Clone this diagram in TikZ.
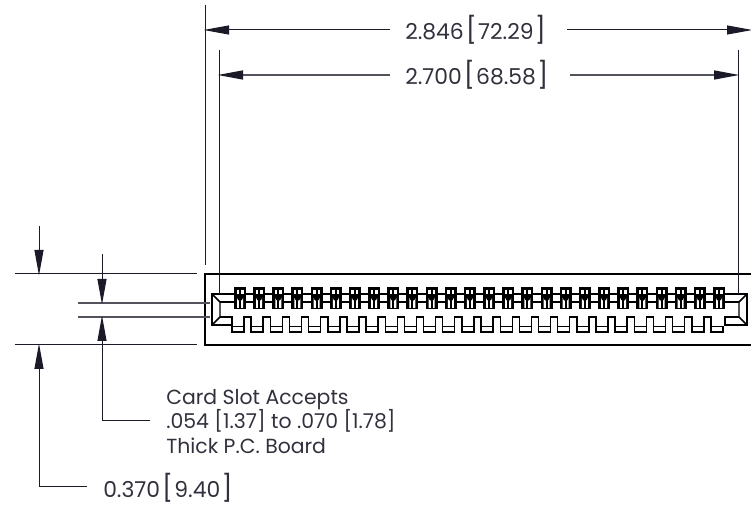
\documentclass[tikz,border=0pt]{standalone}
\usepackage{fontspec}
\setmainfont{Poppins}
\usetikzlibrary{arrows.meta}
\definecolor{dimink}{RGB}{26,26,40}
\newcommand{\dimval}[2]{#1\hspace{1.5pt}{\fontsize{19.5}{19.5}\selectfont[}\hspace{1pt}#2\hspace{1pt}{\fontsize{19.5}{19.5}\selectfont]}}
\tikzset{
	dimline/.style={draw=dimink,line width=.75pt},
	dimgray/.style={draw=dimink!75,line width=1pt},
	dimarrow/.style={-{Triangle[length=19pt,width=6.75pt,color=dimink,fill=dimink]},shorten >=-1pt},
	part/.style={draw=black,line width=1.1pt},
	dimtext/.style={font=\fontsize{16.4}{16.4}\selectfont,text=dimink!90,inner sep=0pt,anchor=west},
	notetext/.style={font=\fontsize{15.3}{18.4}\selectfont,text=dimink!90,inner sep=0pt,anchor=north west,align=left}
}
\begin{document}
\begin{tikzpicture}[x=.75pt,y=-.75pt]
	\useasboundingbox (0,0) rectangle (751,505);
	% connector body
	\draw[part] (751,274) -- (205,274) -- (205,345) -- (751,345);
	\draw[part] (235,294) -- (212,294) -- (212,325) -- (232,325);
	\draw[part] (717,294) -- (747,294) -- (747,325) -- (725,325);
	\draw[part] (212,294) -- (220,302) -- (220,317) -- (212,325);
	\draw[part] (747,294) -- (739,302) -- (739,317) -- (747,325);
	\draw[part] (220,302) -- (235,302);
	\draw[part] (220,317) -- (232,317) -- (232,326);
	\draw[part] (739,302) -- (717,302);
	\draw[part] (739,317) -- (725,317) -- (725,326);
	% contacts
	\foreach \i in {0,...,25}{
		\pgfmathsetmacro{\cx}{240+\i*19.16}
		\pgfmathsetmacro{\bx}{232+\i*19.16}
		\fill[black] (\cx-6,287) rectangle (\cx+6,309);
		\fill[white] (\cx-3.5,290.5) rectangle (\cx-1,294);
		\fill[white] (\cx+1,290.5) rectangle (\cx+3.5,294);
		\fill[white] (\cx-3,308) -- (\cx-3,298) arc (180:0:3) -- (\cx+3,308) -- cycle;
		\fill[black] (\cx-1,309) rectangle (\cx+1,300);
		\draw[part] (\bx,326.5) rectangle (\bx+12,332);
		\ifnum\i<25
			\draw[part] (\cx+6,294) -- (\cx+13.2,294) (\cx+6,302) -- (\cx+13.2,302);
			\draw[part] (\bx+12,326.5) -- (\bx+12,317) -- (\bx+19.16,317) -- (\bx+19.16,326.5);
		\fi
	}
	% extension lines
	\coordinate (ovlt) at (205,5);
	\coordinate (ovlb) at (205,265);
	\coordinate (pitlt) at (219,50);
	\coordinate (pitlb) at (219,294);
	\coordinate (pitrt) at (738,50);
	\coordinate (pitrb) at (738,294);
	\draw[dimline] (ovlt) -- (ovlb);
	\draw[dimline] (pitlt) -- (pitlb);
	\draw[dimline] (pitrt) -- (pitrb);
	\coordinate (topa) at (15,274);
	\coordinate (topb) at (197,274);
	\coordinate (bota) at (15,345);
	\coordinate (botb) at (197,345);
	\coordinate (sla) at (78,303);
	\coordinate (slb) at (210,303);
	\coordinate (sma) at (78,317);
	\coordinate (smb) at (210,317);
	\draw[dimline] (topa) -- (topb);
	\draw[dimline] (bota) -- (botb);
	\draw[dimgray] (sla) -- (slb);
	\draw[dimgray] (sma) -- (smb);
	% width dimensions
	\node[dimtext] (wide) at (405,30) {\dimval{2.846}{72.29}};
	\node[dimtext] (pitch) at (405,75) {\dimval{2.700}{68.58}};
	\coordinate (widel) at (205,30);
	\coordinate (wider) at (751,30);
	\coordinate (pitchl) at (219,75);
	\coordinate (pitchr) at (738,75);
	\draw[dimline,dimarrow] (wide.west) ++(-15,0) -- (widel);
	\draw[dimline,dimarrow] (wide.east) ++(21,0) -- (wider);
	\draw[dimgray,dimarrow] (pitch.west) ++(-15,0) -- (pitchl);
	\draw[dimgray,dimarrow] (pitch.east) ++(21,0) -- (pitchr);
	% height dimensions
	\node[dimtext] (high) at (103,488) {\dimval{0.370}{9.40}};
	\node[notetext] (slot) at (166,389) {Card Slot Accepts\\.054 [1.37] to .070 [1.78]\\Thick P.C. Board};
	\coordinate (hightop) at (39,226);
	\coordinate (hightip) at (39,274);
	\coordinate (highbot) at (39,345);
	\coordinate (highbend) at (39,487);
	\coordinate (highend) at (87,487);
	\coordinate (slottop) at (102,254);
	\coordinate (slottip) at (102,303);
	\coordinate (slotbot) at (102,317);
	\coordinate (slotbend) at (102,421);
	\coordinate (slotend) at (150,421);
	\draw[dimline,dimarrow] (hightop) -- (hightip);
	\draw[dimline,dimarrow] (highend) -- (highbend) -- (highbot);
	\draw[dimline,dimarrow] (slottop) -- (slottip);
	\draw[dimline,dimarrow] (slotend) -- (slotbend) -- (slotbot);
\end{tikzpicture}
\end{document}
